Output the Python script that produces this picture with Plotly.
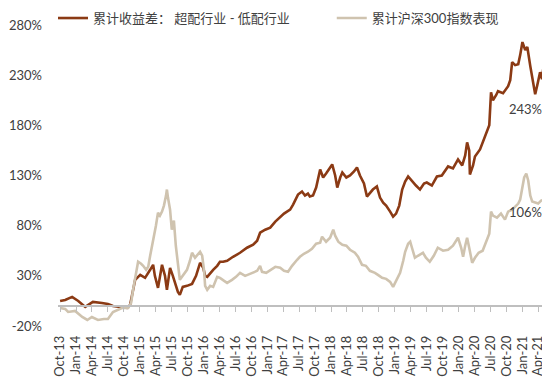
import plotly.graph_objects as go

# 累计收益差：超配行业 - 低配行业 (%)
spread_dates = [
    "2013-10-01", "2013-10-30", "2013-12-09", "2014-01-13", "2014-02-22", "2014-04-07",
    "2014-05-29", "2014-07-02", "2014-07-31", "2014-09-09", "2014-10-20", "2014-11-06",
    "2014-12-05", "2015-01-03", "2015-01-31", "2015-03-01", "2015-03-18", "2015-03-28",
    "2015-04-15", "2015-05-08", "2015-05-25", "2015-06-05", "2015-06-23", "2015-07-09",
    "2015-07-20", "2015-08-07", "2015-08-18", "2015-09-04", "2015-09-28", "2015-10-27",
    "2015-11-19", "2015-12-12", "2015-12-30", "2016-01-10", "2016-01-22", "2016-02-08",
    "2016-02-25", "2016-03-19", "2016-04-04", "2016-04-22", "2016-05-15", "2016-06-18",
    "2016-07-28", "2016-09-06", "2016-10-11", "2016-11-03", "2016-11-20", "2016-12-19",
    "2017-01-17", "2017-02-15", "2017-03-15", "2017-04-06", "2017-04-23", "2017-05-11",
    "2017-05-28", "2017-06-14", "2017-06-25", "2017-07-18", "2017-08-04", "2017-08-21",
    "2017-09-01", "2017-09-19", "2017-10-07", "2017-10-30", "2017-11-16", "2017-12-03",
    "2017-12-20", "2018-01-07", "2018-01-24", "2018-02-05", "2018-02-22", "2018-03-06",
    "2018-03-29", "2018-04-19", "2018-05-12", "2018-05-29", "2018-06-15", "2018-07-08",
    "2018-07-25", "2018-08-11", "2018-08-28", "2018-09-20", "2018-10-08", "2018-10-26",
    "2018-11-12", "2018-12-05", "2018-12-22", "2019-01-08", "2019-01-26", "2019-02-12",
    "2019-03-01", "2019-03-18", "2019-04-09", "2019-05-02", "2019-05-25", "2019-06-17",
    "2019-07-03", "2019-08-01", "2019-08-30", "2019-09-27", "2019-11-02", "2019-11-30",
    "2019-12-29", "2020-01-22", "2020-02-08", "2020-02-19", "2020-03-02", "2020-03-06",
    "2020-03-24", "2020-04-04", "2020-05-03", "2020-05-31", "2020-06-18", "2020-06-25",
    "2020-07-05", "2020-07-16", "2020-08-03", "2020-08-14", "2020-09-12", "2020-10-11",
    "2020-10-23", "2020-11-03", "2020-11-20", "2020-12-08", "2020-12-19", "2021-01-01",
    "2021-01-17", "2021-01-29", "2021-02-15", "2021-03-04", "2021-03-15", "2021-03-27",
    "2021-04-12", "2021-04-23", "2021-05-05",
]
spread_values = [
    5, 6, 9, 5, -1, 4,
    3, 2, 0, -1, -2, 1,
    26, 31, 28, 36, 41, 30,
    18, 41, 30, 16, 38, 30,
    24, 14, 11, 19, 20, 22,
    30, 43, 38, 30, 29, 33,
    36, 40, 44, 44, 45, 49,
    53, 58, 61, 65, 73, 76,
    78, 84, 89, 92, 94, 96,
    101, 107, 111, 114, 110, 112,
    109, 110, 118, 136, 128, 132,
    136, 141, 130, 118, 128, 133,
    128, 130, 134, 138, 130, 122,
    109, 113, 116, 119, 108, 103,
    100, 94, 89, 92, 100, 116,
    124, 129, 124, 120, 116, 122,
    123, 120, 129, 130, 139, 137,
    146, 140, 150, 163, 155, 131,
    140, 149, 156, 169, 176, 180,
    213, 205, 210, 214, 212, 219,
    225, 243, 240, 241, 250, 263,
    255, 258, 239, 222, 211, 220,
    233, 226, 243,
]

# 累计沪深300指数表现 (%)
hs300_dates = [
    "2013-10-01", "2013-10-30", "2013-11-16", "2013-12-26", "2014-02-05", "2014-03-06",
    "2014-04-01", "2014-05-06", "2014-06-09", "2014-07-02", "2014-07-31", "2014-08-28",
    "2014-09-20", "2014-10-26", "2014-11-12", "2014-11-23", "2014-12-10", "2014-12-22",
    "2015-01-08", "2015-01-20", "2015-02-06", "2015-02-18", "2015-03-01", "2015-03-18",
    "2015-04-03", "2015-04-15", "2015-04-26", "2015-05-08", "2015-05-19", "2015-05-31",
    "2015-06-05", "2015-06-11", "2015-06-23", "2015-07-03", "2015-07-15", "2015-07-26",
    "2015-08-01", "2015-08-12", "2015-08-18", "2015-09-04", "2015-09-28", "2015-10-15",
    "2015-10-27", "2015-11-13", "2015-11-30", "2015-12-12", "2015-12-24", "2016-01-04",
    "2016-01-10", "2016-01-22", "2016-02-08", "2016-02-25", "2016-03-19", "2016-04-04",
    "2016-04-28", "2016-05-15", "2016-06-12", "2016-07-05", "2016-07-28", "2016-08-26",
    "2016-09-23", "2016-10-11", "2016-11-03", "2016-11-20", "2016-12-01", "2016-12-25",
    "2017-01-17", "2017-02-15", "2017-03-15", "2017-04-06", "2017-04-29", "2017-05-22",
    "2017-06-20", "2017-07-06", "2017-07-29", "2017-08-21", "2017-09-13", "2017-10-07",
    "2017-10-30", "2017-11-10", "2017-12-03", "2017-12-26", "2018-01-13", "2018-01-24",
    "2018-02-11", "2018-03-06", "2018-03-29", "2018-04-19", "2018-05-17", "2018-06-04",
    "2018-06-27", "2018-07-19", "2018-08-11", "2018-09-09", "2018-09-26", "2018-10-20",
    "2018-11-12", "2018-12-05", "2018-12-22", "2019-01-08", "2019-01-31", "2019-02-18",
    "2019-03-01", "2019-03-18", "2019-03-30", "2019-04-09", "2019-04-26", "2019-05-13",
    "2019-06-11", "2019-06-28", "2019-07-20", "2019-08-12", "2019-09-04", "2019-10-04",
    "2019-11-02", "2019-11-30", "2019-12-29", "2020-01-16", "2020-01-27", "2020-02-08",
    "2020-02-19", "2020-03-02", "2020-03-19", "2020-04-04", "2020-04-25", "2020-05-18",
    "2020-05-31", "2020-06-18", "2020-06-25", "2020-07-05", "2020-07-16", "2020-08-08",
    "2020-08-31", "2020-09-23", "2020-10-11", "2020-11-03", "2020-11-20", "2020-12-08",
    "2020-12-19", "2021-01-01", "2021-01-11", "2021-01-23", "2021-02-03", "2021-02-15",
    "2021-02-26", "2021-03-15", "2021-04-01", "2021-04-18", "2021-05-10",
]
hs300_values = [
    -2, -3, -6, -5, -11, -14,
    -11, -14, -13, -13, -6, -4,
    -2, -2, 3, 16, 35, 44,
    42, 40, 36, 39, 50, 64,
    80, 93, 90, 94, 100, 110,
    116, 108, 96, 76, 85, 60,
    49, 35, 26, 30, 36, 45,
    53, 48, 52, 54, 50, 35,
    20, 16, 20, 19, 29, 28,
    25, 23, 26, 29, 33, 30,
    32, 33, 35, 40, 34, 33,
    36, 39, 38, 35, 34, 40,
    46, 49, 52, 54, 57, 62,
    63, 69, 64, 68, 76, 70,
    64, 61, 60, 56, 53, 49,
    41, 40, 35, 33, 31, 28,
    27, 24, 19, 25, 33, 45,
    54, 62, 64, 58, 48, 50,
    53, 48, 44, 50, 58, 55,
    56, 60, 68, 58, 49, 60,
    68, 58, 43, 48, 53, 55,
    61, 70, 72, 94, 90, 88,
    92, 86, 94, 96, 99, 102,
    106, 120, 128, 132, 125, 110,
    104, 103, 102, 105, 106,
]

series_names = ["累计收益差： 超配行业 - 低配行业", "累计沪深300指数表现"]
y_ticks = [-20, 30, 80, 130, 180, 230, 280]

BROWN = "#8B3A14"
BEIGE = "#CFC3AF"
TEXT = "#404040"
AXIS = "#BFBFBF"
FONT = "Lato, 'Noto Sans CJK SC', sans-serif"

x_range = ["2013-09-19", "2021-05-16"]
y_range = [-20, 280]

fig = go.Figure()
fig.add_trace(go.Scatter(
    x=hs300_dates, y=hs300_values, mode="lines", name=series_names[1],
    line=dict(color=BEIGE, width=2.6), xaxis="x2", yaxis="y", legend="legend2",
))
fig.add_trace(go.Scatter(
    x=spread_dates, y=spread_values, mode="lines", name=series_names[0],
    line=dict(color=BROWN, width=2.6), xaxis="x", yaxis="y", legend="legend",
))

fig.add_annotation(x=spread_dates[-1], y=spread_values[-1], xref="x", yref="y",
                   text=f"{spread_values[-1]}%", showarrow=False, xanchor="right",
                   yanchor="middle", xshift=0, yshift=-47,
                   font=dict(family=FONT, size=13, color=TEXT))
fig.add_annotation(x=hs300_dates[-1], y=hs300_values[-1], xref="x2", yref="y",
                   text=f"{hs300_values[-1]}%", showarrow=False, xanchor="right",
                   yanchor="middle", xshift=-1, yshift=-12,
                   font=dict(family=FONT, size=13, color=TEXT))

zero_pos = (0 - y_range[0]) / (y_range[1] - y_range[0])

legend_common = dict(orientation="h", yanchor="middle", y=1.023, xanchor="left",
                     font=dict(family=FONT, size=13, color=TEXT),
                     bgcolor="rgba(0,0,0,0)", borderwidth=0, itemwidth=30)

fig.update_layout(
    width=542, height=374,
    margin=dict(l=50, r=4, t=17, b=56, autoexpand=False),
    paper_bgcolor="white", plot_bgcolor="white",
    font=dict(family=FONT, size=12, color=TEXT),
    showlegend=True,
    legend=dict(x=-0.0102, **legend_common),
    legend2=dict(x=0.561, **legend_common),
    xaxis=dict(type="date", range=x_range, showgrid=False, zeroline=False,
               showline=False, ticks="", tick0="2013-10-01", dtick="M3",
               tickformat="%b-%y", tickangle=-90, ticklabelstandoff=6,
               tickfont=dict(family=FONT, size=13, color=TEXT)),
    xaxis2=dict(type="date", range=x_range, overlaying="x", anchor="free",
                position=zero_pos, showgrid=False, zeroline=False,
                showline=True, linecolor=AXIS, linewidth=1.5,
                ticks="outside", ticklen=5, tickcolor=AXIS, tickwidth=1,
                tick0="2013-10-01", dtick="M3", showticklabels=False),
    yaxis=dict(range=y_range, tickvals=y_ticks, ticktext=[f"{v}%" for v in y_ticks],
               showgrid=False, zeroline=False, showline=False, ticks="",
               ticklabelstandoff=15,
               tickfont=dict(family=FONT, size=13, color=TEXT)),
)

fig.write_html("out.html")
